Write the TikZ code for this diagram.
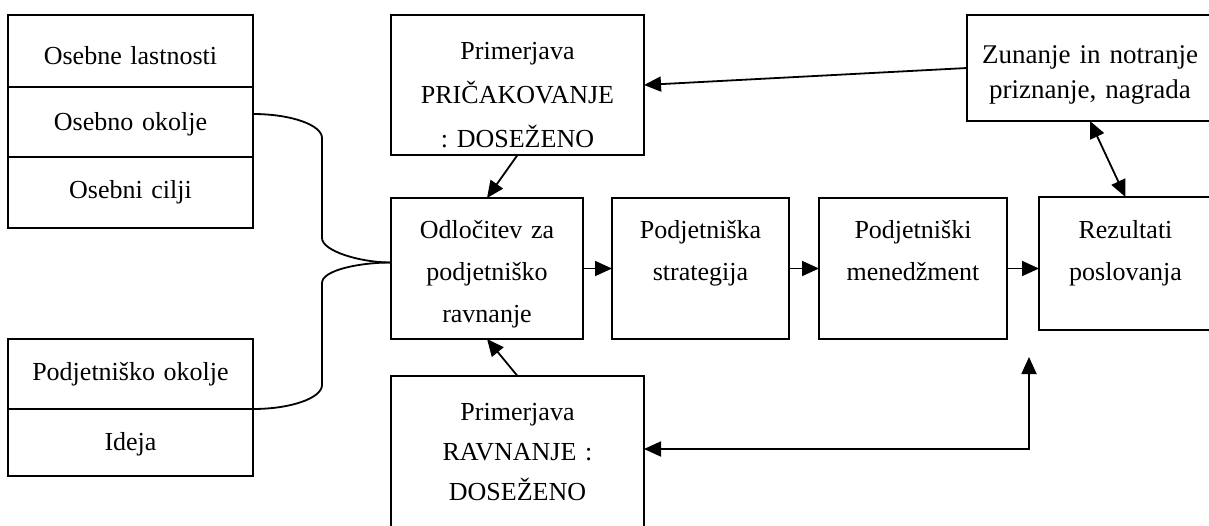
\documentclass[tikz,border=0pt]{standalone}
\usepackage{fontspec}
\setmainfont{Liberation Serif}
\frenchspacing
\usetikzlibrary{arrows.meta, positioning}

\begin{document}
\begin{tikzpicture}[x=1pt, y=-1pt,
    okvir/.style={draw, line width=1.8pt, inner sep=0pt, outer sep=0pt, align=center,
      anchor=north west, font=\fontsize{26}{42}\selectfont},
    crta/.style={line width=1.8pt},
    puscica/.style={line width=1.8pt, -{Triangle[length=17pt, width=15pt]}},
    dvosmerna/.style={line width=1.8pt, {Triangle[length=17pt, width=15pt]}-{Triangle[length=17pt, width=15pt]}}]
    \useasboundingbox (0,0) rectangle (1209,525);
    \clip (0,0) rectangle (1209,525);
    % Left: personal side
    \node[okvir, text width=245pt, text height=49pt, text depth=23pt] (osl) at (8,15) {Osebne lastnosti};
    \node[okvir, text width=245pt, text height=43pt, text depth=27pt, below=0pt of osl] (osok) {Osebno okolje};
    \node[okvir, text width=245pt, text height=41pt, text depth=30pt, below=0pt of osok] (oscil) {Osebni cilji};
    % Left: business side
    \node[okvir, text width=245pt, text height=41pt, text depth=29pt] (podok) at (8,339) {Podjetniško okolje};
    \node[okvir, text width=245pt, text height=41pt, text depth=26pt, below=0pt of podok] (ideja) {Ideja};
    % Comparisons
    \node[okvir, text width=253pt, text height=44pt, text depth=96pt, font=\fontsize{26}{44}\selectfont] (pric) at (391,15) {Primerjava\\PRIČAKOVANJE\\: DOSEŽENO};
    \node[okvir, text width=253pt, text height=44pt, text depth=120pt, font=\fontsize{26}{40}\selectfont] (rav) at (391,376) {Primerjava\\RAVNANJE :\\DOSEŽENO};
    % Main chain
    \node[okvir, text width=192pt, text height=40pt, text depth=101pt] (odl) at (391,198) {Odločitev za\\podjetniško\\ravnanje};
    \node[okvir, text width=177pt, text height=40pt, text depth=101pt] (str) at (612,198) {Podjetniška\\strategija};
    \node[okvir, text width=188pt, text height=40pt, text depth=101pt] (men) at (819,198) {Podjetniški\\menedžment};
    \node[okvir, text width=173pt, text height=41pt, text depth=92pt] (rez) at (1039,197) {Rezultati\\poslovanja};
    \node[okvir, text width=246pt, text height=48pt, text depth=58pt, font=\fontsize{27}{35}\selectfont] (zun) at (967,15) {Zunanje in notranje\\priznanje, nagrada};
    \coordinate (stik) at ([yshift=6pt]odl.west);
    \coordinate (cilj) at (1029,357);
    % Joining curves
    \draw[crta] ([yshift=8pt]osok.east) .. controls +(38,0) and +(0,-13) .. (322,138) -- (322,238)
        .. controls +(0,13) and +(-31,0) .. (stik);
    \draw[crta] (podok.south east) .. controls +(38,0) and +(0,13) .. (322,385) -- (322,283)
        .. controls +(0,-13) and +(-31,0) .. (stik);
    % Arrows
    \draw[puscica] (pric.south) -- (odl.north);
    \draw[puscica] (rav.north) -- (odl.south);
    \draw[puscica] (odl) -- (str);
    \draw[puscica] (str) -- (men);
    \draw[puscica] (men.east) -- (men.east -| rez.west);
    \draw[puscica] (zun.west) -- (pric.east);
    \draw[dvosmerna] (zun.south) -- (rez.north);
    \draw[dvosmerna] ([yshift=9pt]rav.east) -| (cilj);
\end{tikzpicture}
\end{document}
